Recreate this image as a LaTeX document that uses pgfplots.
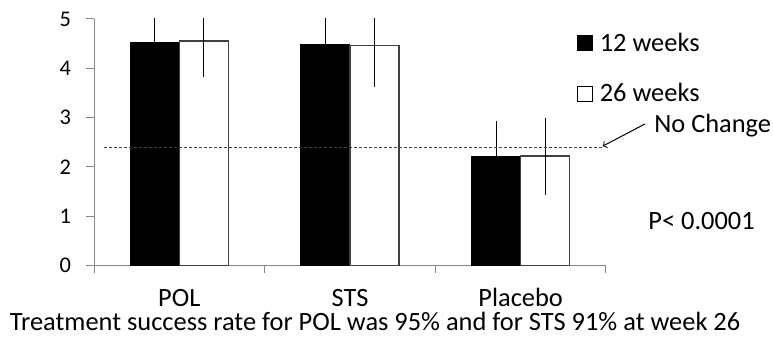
\documentclass[border=0pt]{standalone}
\usepackage{pgfplots}
\pgfplotsset{compat=1.18}
\usepackage{fontspec}
\setmainfont{Carlito}
\newcommand{\bigf}{\fontsize{13.2bp}{15.8bp}\selectfont}
\newcommand{\smallf}{\fontsize{11.2bp}{13.4bp}\selectfont}
\pgfplotsset{myerr/.style={error bars/.cd, y dir=both, y explicit,
    error bar style={line width=0.5bp, draw=black},
    error mark options={line width=0.5bp, mark size=1.5bp, draw=black}}}
\begin{document}
\begin{tikzpicture}
\useasboundingbox (-47bp,-36.75bp) rectangle (339.5bp,132.75bp);
\begin{axis}[
  at={(0,0)}, anchor=south west,
  scale only axis, width=256bp, height=123.25bp,
  xmin=-0.5, xmax=2.5, ymin=0, ymax=5,
  ybar=0pt, bar width=24.5bp,
  clip mode=individual,
  axis x line=bottom, axis y line=left,
  axis line style={draw=black!47, line width=0.5bp, -},
  xtick={0,1,2}, xticklabels={POL,STS,Placebo},
  minor xtick={-0.5,0.5,1.5,2.5},
  ytick={0,1,2,3,4,5},
  tick align=outside,
  major tick length=4bp, minor tick length=3.5bp,
  tick style={draw=black!47, line width=0.5bp},
  major x tick style={draw=none},
  /pgf/number format/assume math mode=true,
  yticklabel style={font=\smallf, xshift=-4bp},
  xticklabel style={font=\bigf, anchor=base, inner sep=0pt, yshift=-16.6bp},
  xlabel={Treatment success rate for POL was 95\% and for STS 91\% at week 26},
  xlabel style={font=\bigf, at={(axis description cs:0.549,0)}, anchor=base, yshift=-32.6bp, inner sep=0pt},
  legend style={draw=none, fill=none, font=\bigf, at={(axis description cs:0.943,0.944)}, anchor=north west,
    inner sep=0pt, row sep=14.5bp, column sep=3.3bp, nodes={inner sep=0pt}},
  legend cell align=left,
]
\addplot[fill=black, draw=black, line width=0.5bp,
  legend image code/.code={\draw[fill=black,draw=black,line width=0.5bp] (0bp,-3.5bp) rectangle (7.5bp,4bp);},
  myerr]
  coordinates {(0,4.53) +- (0,0.67) (1,4.49) +- (0,0.70) (2,2.21) +- (0,0.67)};
\addlegendentry{12 weeks}
\addplot[fill=white, draw=black!75, line width=0.7bp,
  legend image code/.code={\draw[fill=white,draw=black,line width=0.5bp] (0bp,-3.5bp) rectangle (7.5bp,4bp);},
  myerr]
  coordinates {(0,4.55) +- (0,0.67) (1,4.46) +- (0,0.77) (2,2.22) +- (0,0.72)};
\addlegendentry{26 weeks}
\addplot[sharp plot, no marks, draw=black!75, line width=0.45bp, dash pattern=on 1.5bp off 1bp, forget plot]
  coordinates {(-0.44,2.4) (2.48,2.4)};
\node[anchor=base west, font=\bigf, inner sep=0pt] at (axis cs:2.781,2.694) {No Change};
\draw[->, line width=0.5bp] (axis cs:2.728,2.87) -- (axis cs:2.48,2.42);
\node[anchor=base west, font=\bigf, inner sep=0pt] at (axis cs:2.746,0.74) {P< 0.0001};
\end{axis}
\end{tikzpicture}
\end{document}
